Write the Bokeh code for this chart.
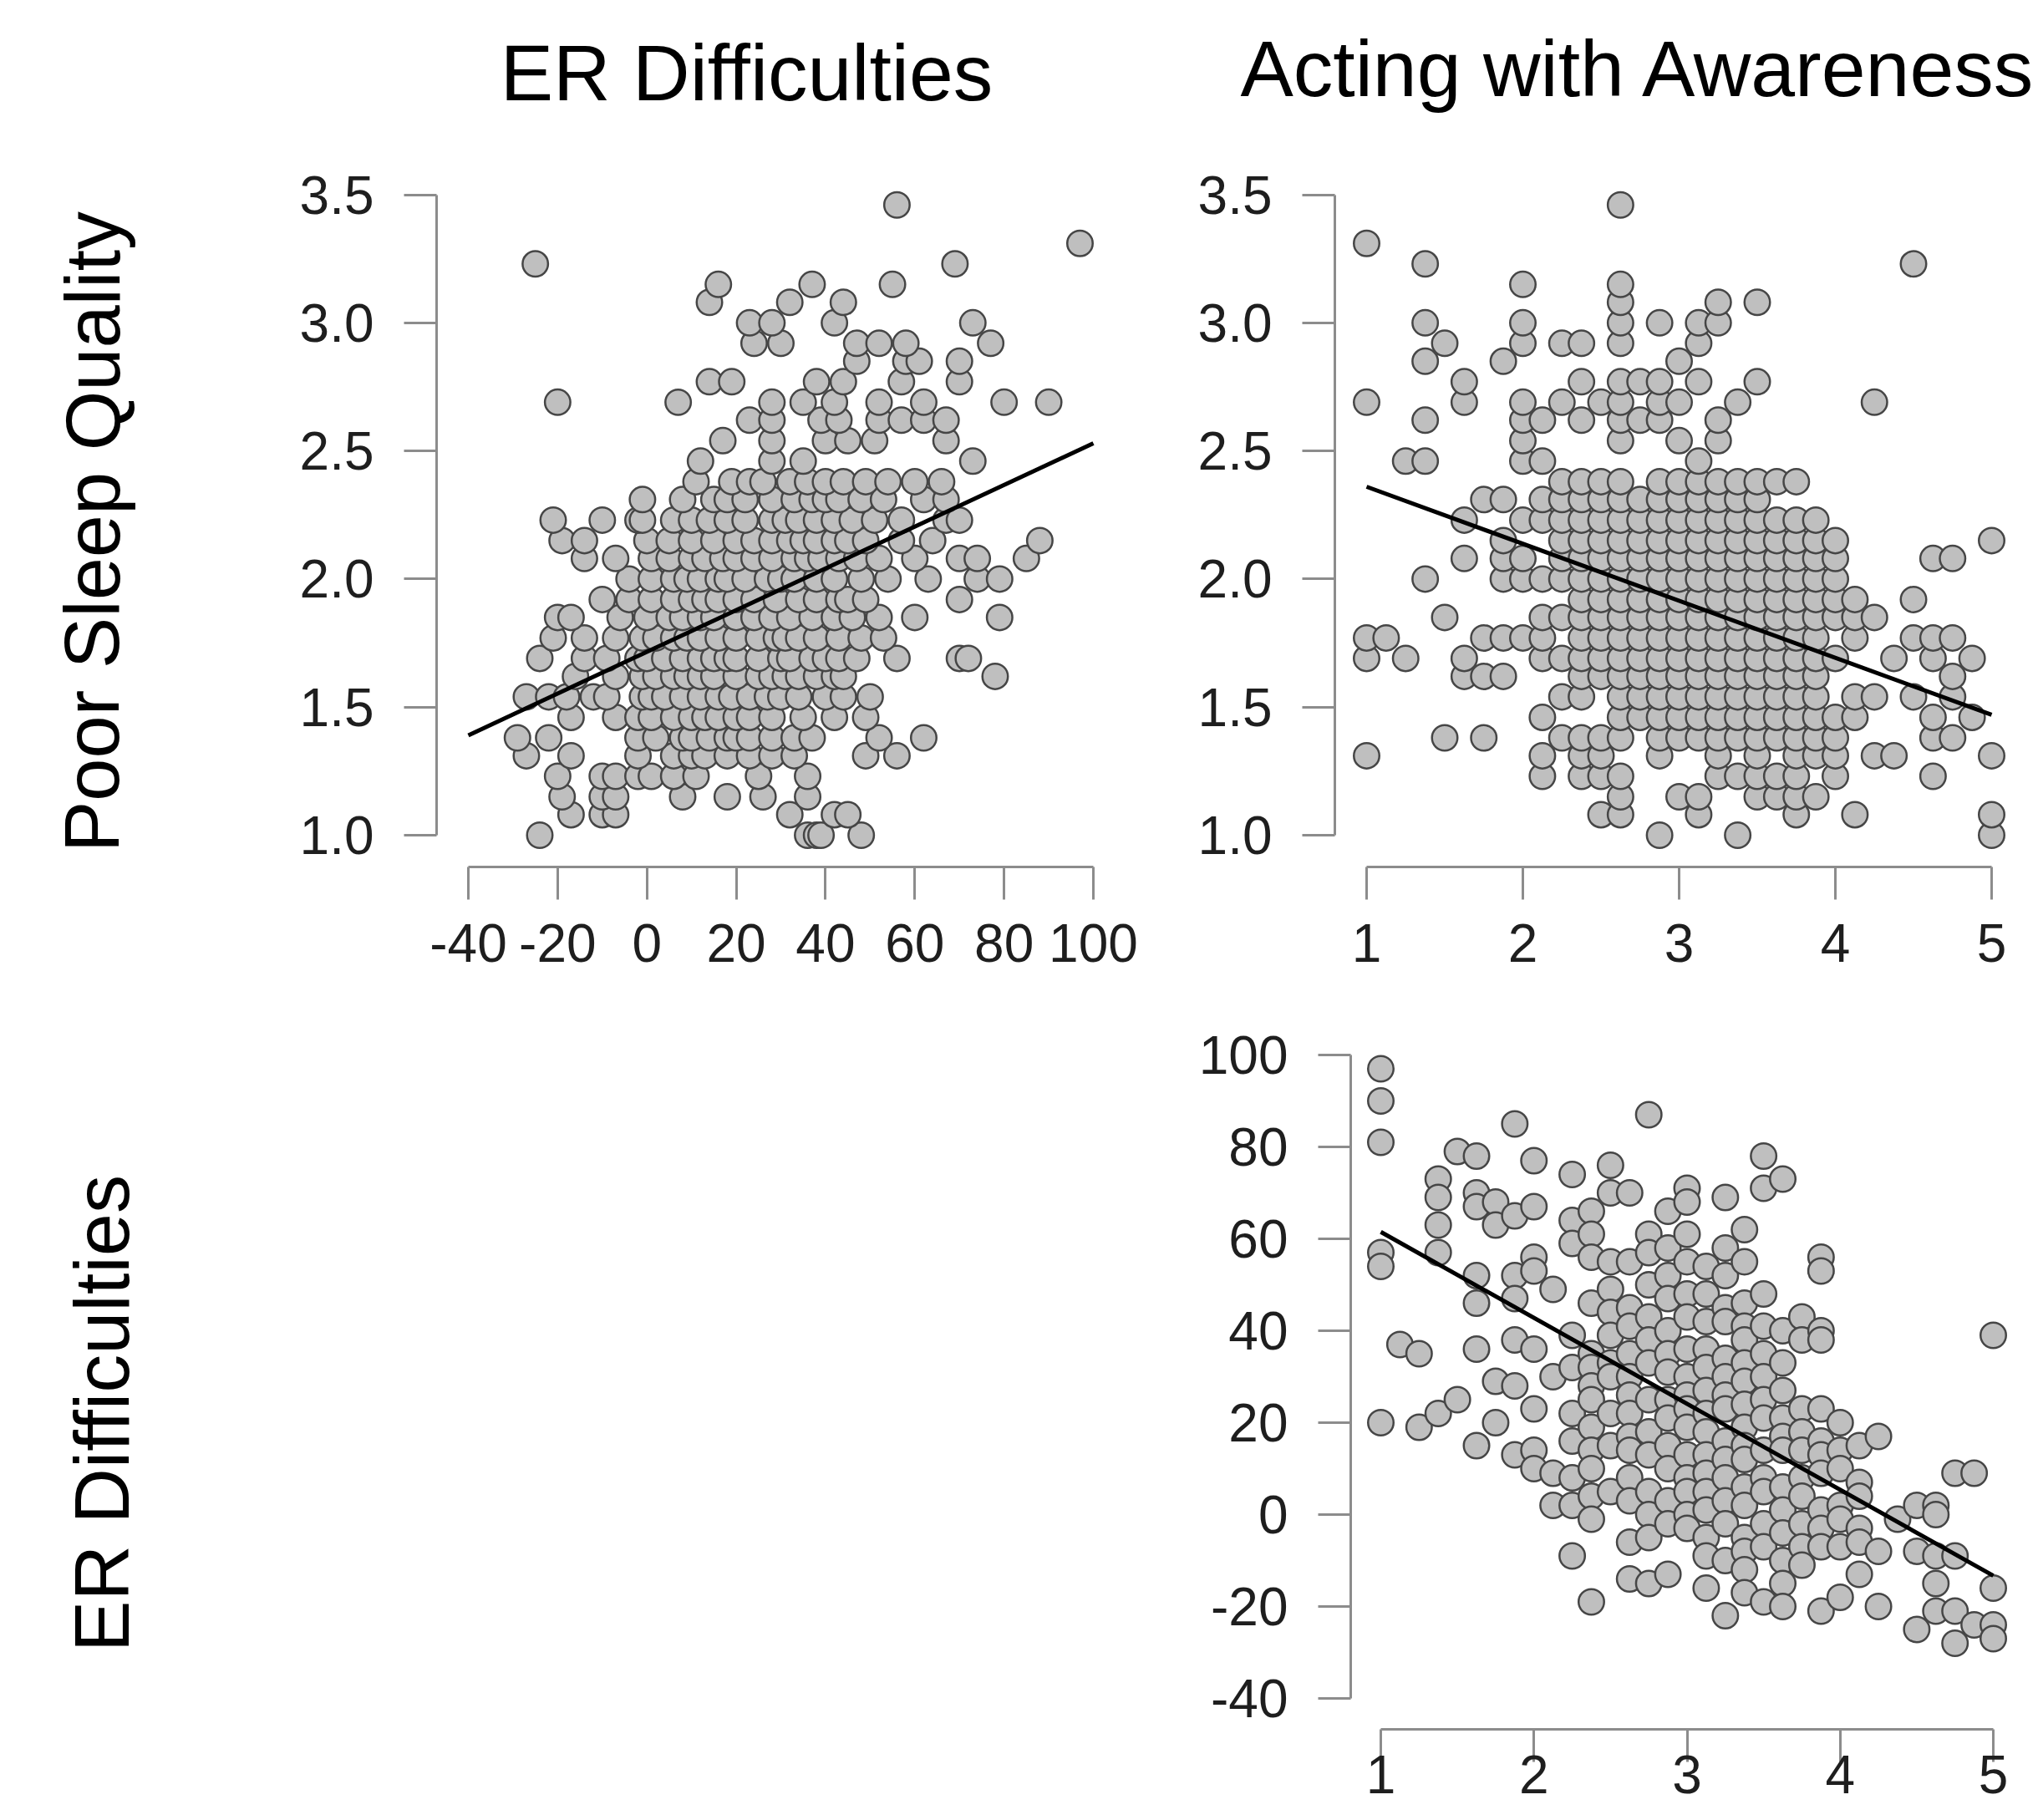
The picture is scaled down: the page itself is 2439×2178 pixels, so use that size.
from bokeh.plotting import figure
from bokeh.layouts import row, column
from bokeh.models import Range1d, FixedTicker, PrintfTickFormatter, AllLabels, Spacer
from bokeh.core.properties import value
from bokeh.embed import file_html
from bokeh.resources import INLINE

# ---------------- data ----------------
# Panel 1: ER Difficulties (x) vs Poor Sleep Quality (y)
p1_psq_levels = [1.00, 1.08, 1.15, 1.23, 1.31, 1.38, 1.46, 1.54, 1.62, 1.69, 1.77,
                 1.85, 1.92, 2.00, 2.08, 2.15, 2.23, 2.31, 2.38, 2.46, 2.54, 2.62,
                 2.69, 2.77, 2.85, 2.92, 3.00, 3.08, 3.15, 3.23, 3.31, 3.46]
p1_er_at_level = [
    [-24, 36, 38, 39, 48],
    [-17, -10, -7, 32, 42, 45],
    [-19, -10, -7, 8, 18, 26, 36],
    [-20, -10, -7, -2, 1, 6, 11, 25, 36],
    [-27, -17, -2, 6, 10, 13, 18, 23, 28, 33, 49, 56],
    [-29, -22, -2, 2, 8, 10, 14, 18, 20, 23, 28, 33, 37, 52, 62],
    [-17, -7, -2, 1, 6, 10, 13, 16, 20, 23, 28, 35, 42, 49],
    [-27, -22, -18, -12, -9, -1, 1, 4, 8, 12, 16, 19, 23, 27, 30, 34, 40, 44, 50],
    [-16, -7, -1, 2, 6, 9, 12, 15, 20, 25, 28, 31, 34, 38, 42, 44, 78],
    [-24, -14, -9, -2, 0, 4, 8, 12, 15, 18, 20, 25, 30, 32, 37, 40, 43, 47, 56, 70, 72],
    [-21, -14, -7, -1, 2, 6, 9, 12, 16, 20, 25, 29, 31, 34, 38, 43, 48, 53],
    [-20, -17, -6, 0, 5, 8, 12, 15, 20, 24, 28, 32, 37, 42, 46, 52, 60, 79],
    [-10, -4, 1, 6, 10, 13, 16, 20, 24, 29, 34, 38, 43, 45, 49, 70],
    [-4, 1, 6, 9, 12, 16, 18, 22, 27, 30, 33, 38, 42, 48, 54, 63, 74, 79],
    [-14, -7, 1, 5, 10, 13, 17, 20, 24, 28, 33, 36, 39, 43, 47, 52, 60, 70, 74, 85],
    [-19, -14, 0, 5, 10, 15, 20, 24, 28, 32, 35, 38, 42, 45, 49, 57, 64, 88],
    [-21, -10, -2, -1, 6, 10, 14, 18, 22, 28, 31, 34, 38, 42, 46, 51, 57, 67, 70],
    [-1, 8, 15, 18, 22, 28, 33, 37, 40, 43, 48, 53, 62, 67],
    [11, 19, 23, 26, 32, 36, 40, 44, 49, 54, 60, 66],
    [12, 28, 35, 73],
    [17, 28, 40, 45, 51, 67],
    [23, 28, 39, 43, 52, 57, 62, 67],
    [-20, 7, 28, 35, 42, 52, 62, 80, 90],
    [14, 19, 38, 44, 57, 70],
    [47, 58, 61, 70],
    [24, 30, 47, 52, 58, 77],
    [23, 28, 42, 73],
    [14, 32, 44],
    [16, 37, 55],
    [-25, 69],
    [97],
    [56],
]
p1_fit_x = [-40, 100]
p1_fit_y = [1.39, 2.53]
p1_xticks = [-40, -20, 0, 20, 40, 60, 80, 100]
p1_yticks = [1.0, 1.5, 2.0, 2.5, 3.0, 3.5]

# Panel 2: Acting with Awareness (x) vs Poor Sleep Quality (y)
p2_psq_levels = [1.00, 1.08, 1.15, 1.23, 1.31, 1.38, 1.46, 1.54, 1.62, 1.69, 1.77,
                 1.85, 1.92, 2.00, 2.08, 2.15, 2.23, 2.31, 2.38, 2.46, 2.54, 2.62,
                 2.69, 2.77, 2.85, 2.92, 3.00, 3.08, 3.15, 3.23, 3.31, 3.46]
p2_awa_at_level = [
    [2.875, 3.375, 5.0],
    [2.5, 2.625, 3.125, 3.75, 4.125, 5.0],
    [2.625, 3.0, 3.125, 3.5, 3.625, 3.75, 3.875],
    [2.125, 2.375, 2.5, 2.625, 3.25, 3.375, 3.5, 3.625, 3.75, 4.0, 4.625],
    [1.0, 2.125, 2.375, 2.5, 2.875, 3.25, 3.5, 3.75, 3.875, 4.0, 4.25, 4.375, 5.0],
    [1.5, 1.75, 2.25, 2.375, 2.5, 2.625, 2.875, 3.0, 3.125, 3.25, 3.375, 3.5, 3.625, 3.75, 3.875, 4.0, 4.625, 4.75],
    [2.125, 2.625, 2.75, 2.875, 3.0, 3.125, 3.25, 3.375, 3.5, 3.625, 3.75, 3.875, 4.0, 4.125, 4.625, 4.875],
    [2.25, 2.375, 2.625, 2.75, 2.875, 3.0, 3.125, 3.25, 3.375, 3.5, 3.625, 3.75, 3.875, 4.125, 4.25, 4.5, 4.75],
    [1.625, 1.75, 1.875, 2.375, 2.5, 2.625, 2.75, 2.875, 3.0, 3.125, 3.25, 3.375, 3.5, 3.625, 3.75, 3.875, 4.75],
    [1.0, 1.25, 1.625, 2.125, 2.25, 2.375, 2.5, 2.625, 2.75, 2.875, 3.0, 3.125, 3.25, 3.375, 3.5, 3.625, 3.75, 3.875, 4.0, 4.375, 4.625, 4.875],
    [1.0, 1.125, 1.75, 1.875, 2.0, 2.125, 2.375, 2.5, 2.625, 2.75, 2.875, 3.0, 3.125, 3.25, 3.375, 3.5, 3.625, 3.75, 3.875, 4.125, 4.5, 4.625, 4.75],
    [1.5, 2.125, 2.25, 2.375, 2.5, 2.625, 2.75, 2.875, 3.0, 3.125, 3.25, 3.375, 3.5, 3.625, 3.75, 3.875, 4.0, 4.125, 4.25],
    [2.375, 2.5, 2.625, 2.75, 2.875, 3.0, 3.125, 3.25, 3.375, 3.5, 3.625, 3.75, 3.875, 4.0, 4.125, 4.5],
    [1.375, 1.875, 2.0, 2.125, 2.25, 2.375, 2.5, 2.625, 2.75, 2.875, 3.0, 3.125, 3.25, 3.375, 3.5, 3.625, 3.75, 3.875, 4.0],
    [1.625, 1.875, 2.0, 2.25, 2.375, 2.5, 2.625, 2.75, 2.875, 3.0, 3.125, 3.25, 3.375, 3.5, 3.625, 3.75, 3.875, 4.0, 4.625, 4.75],
    [1.875, 2.25, 2.375, 2.5, 2.625, 2.75, 2.875, 3.0, 3.125, 3.25, 3.375, 3.5, 3.625, 3.75, 3.875, 4.0, 5.0],
    [1.625, 2.0, 2.125, 2.25, 2.375, 2.5, 2.625, 2.75, 2.875, 3.0, 3.125, 3.25, 3.375, 3.5, 3.625, 3.75, 3.875],
    [1.75, 1.875, 2.125, 2.25, 2.375, 2.5, 2.625, 2.75, 2.875, 3.0, 3.125, 3.25, 3.375, 3.5],
    [2.25, 2.375, 2.5, 2.625, 2.875, 3.0, 3.125, 3.25, 3.375, 3.5, 3.625, 3.75],
    [1.25, 1.375, 2.0, 2.125, 3.125],
    [2.0, 2.625, 3.0, 3.25],
    [1.375, 2.0, 2.125, 2.375, 2.625, 2.75, 2.875, 3.25],
    [1.0, 1.625, 2.0, 2.25, 2.5, 2.625, 2.875, 3.0, 3.375, 4.25],
    [1.625, 2.375, 2.625, 2.75, 2.875, 3.125, 3.5],
    [1.375, 1.875, 3.0],
    [1.5, 2.0, 2.25, 2.375, 2.625, 3.125],
    [1.375, 2.0, 2.625, 2.875, 3.125, 3.25],
    [2.625, 3.25, 3.5],
    [2.0, 2.625],
    [1.375, 4.5],
    [1.0],
    [2.625],
]
p2_fit_x = [1, 5]
p2_fit_y = [2.36, 1.47]
p2_xticks = [1, 2, 3, 4, 5]
p2_yticks = [1.0, 1.5, 2.0, 2.5, 3.0, 3.5]

# Panel 3: Acting with Awareness (x) vs ER Difficulties (y)
p3_awa_levels = [1.0, 1.125, 1.25, 1.375, 1.5, 1.625, 1.75, 1.875, 2.0, 2.125, 2.25,
                 2.375, 2.5, 2.625, 2.75, 2.875, 3.0, 3.125, 3.25, 3.375, 3.5, 3.625,
                 3.75, 3.875, 4.0, 4.125, 4.25, 4.375, 4.5, 4.625, 4.75, 4.875, 5.0]
p3_er_at_awa = [
    [97, 90, 81, 57, 54, 20],
    [37],
    [35, 19],
    [73, 69, 63, 57, 22],
    [79, 25],
    [78, 70, 67, 52, 46, 36, 15],
    [68, 63, 29, 20],
    [85, 65, 52, 47, 38, 28, 13],
    [77, 67, 56, 53, 36, 23, 14, 10],
    [49, 30, 9, 2],
    [74, 64, 59, 39, 32, 22, 16, 8, 2, -9],
    [66, 61, 56, 46, 35, 32, 28, 25, 19, 14, 10, 4, -1, -19],
    [76, 70, 55, 49, 44, 39, 33, 30, 22, 15, 5],
    [70, 55, 45, 41, 35, 30, 26, 22, 17, 14, 8, 3, -6, -14],
    [87, 61, 57, 50, 43, 38, 33, 25, 18, 13, 5, 0, -5, -15],
    [66, 58, 52, 47, 40, 35, 31, 25, 21, 15, 10, 3, -2, -13],
    [71, 68, 61, 55, 48, 43, 36, 30, 26, 23, 19, 13, 8, 5, 0, -3],
    [54, 48, 42, 36, 32, 27, 22, 18, 13, 9, 5, 1, -5, -9, -16],
    [69, 58, 52, 45, 42, 34, 30, 26, 23, 16, 12, 8, 3, -2, -10, -22],
    [62, 55, 46, 41, 38, 33, 29, 24, 19, 15, 12, 6, 2, -5, -8, -12, -17],
    [78, 71, 48, 41, 35, 30, 25, 21, 14, 8, 5, -2, -7, -19],
    [73, 40, 33, 27, 21, 17, 14, 6, 1, -4, -10, -15, -20],
    [43, 38, 23, 18, 14, 8, 4, -2, -7, -11],
    [56, 53, 40, 38, 23, 16, 13, 9, 1, -3, -7, -21],
    [20, 14, 10, 2, -1, -7, -18],
    [15, 7, 4, -3, -6, -13],
    [17, -8, -20],
    [-1],
    [2, -8, -25],
    [2, 0, -9, -15, -21],
    [9, -9, -21, -28],
    [9, -24],
    [39, -16, -24, -27],
]
p3_fit_x = [1, 5]
p3_fit_y = [61.5, -13.3]
p3_xticks = [1, 2, 3, 4, 5]
p3_yticks = [-40, -20, 0, 20, 40, 60, 80, 100]

col_titles = ["ER Difficulties", "Acting with Awareness"]
row_titles = ["Poor Sleep Quality", "ER Difficulties"]

# ---------------- styling ----------------
FONT = "Liberation Sans"
FILL = "#bfbfbf"
EDGE = "#464646"
AXIS_COLOR = "#8c8c8c"
TICK_TEXT = "#1e1e1e"
TITLE_SIZE = "95px"
ROW_SIZE = "92px"
SMALL = "64px"


def flatten(levels, groups, levels_on_x):
    a = [v for lvl, g in zip(levels, groups) for v in [lvl] * len(g)]
    b = [v for g in groups for v in g]
    return (a, b) if levels_on_x else (b, a)


def span(v0, p0, v1, p1, e_lo, e_hi):
    # data range whose frame edges sit at pixel e_lo / e_hi, given two tick anchors
    s = (p1 - p0) / (v1 - v0)
    return Range1d(v0 + (e_lo - p0) / s, v0 + (e_hi - p0) / s)


def panel(xs, ys, fx, fy, xr, yr, xticks, yticks, xfmt, yfmt, w, h,
          mbl, mbr, mbt, mbb, x_standoff):
    p = figure(width=w, height=h, x_range=xr, y_range=yr, output_backend="svg",
               toolbar_location=None, min_border_left=mbl, min_border_right=mbr,
               min_border_top=mbt, min_border_bottom=mbb,
               background_fill_color="white", border_fill_color="white")
    p.grid.visible = False
    p.outline_line_color = None
    p.scatter(x=xs, y=ys, marker="circle", size=30.5, fill_color=FILL,
              line_color=EDGE, line_width=2.5)
    p.line(x=fx, y=fy, line_color="black", line_width=5)
    for ax, ticks, fmt in ((p.xaxis[0], xticks, xfmt), (p.yaxis[0], yticks, yfmt)):
        ax.ticker = FixedTicker(ticks=ticks)
        ax.bounds = (min(ticks), max(ticks))
        ax.formatter = PrintfTickFormatter(format=fmt)
        ax.axis_line_color = AXIS_COLOR
        ax.axis_line_width = 3
        ax.major_tick_line_color = AXIS_COLOR
        ax.major_tick_line_width = 3
        ax.major_tick_in = 0
        ax.major_tick_out = 39
        ax.minor_tick_line_color = None
        ax.major_label_text_font = FONT
        ax.major_label_text_font_size = SMALL
        ax.major_label_text_color = TICK_TEXT
        ax.major_label_policy = AllLabels()
    p.xaxis[0].major_label_standoff = x_standoff
    p.yaxis[0].major_label_standoff = 36
    return p


def text_fig(w, h):
    t = figure(width=w, height=h, x_range=Range1d(0, w), y_range=Range1d(0, h),
               output_backend="svg", toolbar_location=None,
               x_axis_location=None, y_axis_location=None, min_border=0,
               min_border_left=0, min_border_right=0, min_border_top=0,
               min_border_bottom=0, background_fill_color="white",
               border_fill_color="white")
    t.grid.visible = False
    t.outline_line_color = None
    return t


# ---------------- layout (page pixels) ----------------
W0, W1, W2 = 310, 1105, 1022
H0, H1, H2 = 180, 1010, 986

# panel 1
x1, y1 = flatten(p1_psq_levels, p1_er_at_level, levels_on_x=False)
p1 = panel(x1, y1, p1_fit_x, p1_fit_y,
           span(-40, 560, 100, 1308, 522, 1330),
           span(1.0, 999, 3.5, 232.5, 1037, 214),
           p1_xticks, p1_yticks, "%d", "%.1f",
           W1, H1, 212, 85, 34, 153, 29)

# panel 2
x2, y2 = flatten(p2_psq_levels, p2_awa_at_level, levels_on_x=False)
p2 = panel(x2, y2, p2_fit_x, p2_fit_y,
           span(1, 1635, 5, 2383, 1597, 2408),
           span(1.0, 999, 3.5, 232.5, 1037, 214),
           p2_xticks, p2_yticks, "%d", "%.1f",
           W2, H1, 182, 29, 34, 153, 29)

# panel 3
x3, y3 = flatten(p3_awa_levels, p3_er_at_awa, levels_on_x=True)
p3 = panel(x3, y3, p3_fit_x, p3_fit_y,
           span(1, 1652, 5, 2385, 1616, 2408),
           span(-40, 2032, 100, 1262, 2069, 1241),
           p3_xticks, p3_yticks, "%d", "%d",
           W2, H2, 201, 29, 51, 107, -8)

# column titles
t1 = text_fig(W1, H0)
t1.text(x=[583], y=[94], text=[col_titles[0]], text_font=value(FONT),
        text_font_size=value(TITLE_SIZE), text_align="center",
        text_baseline="alphabetic", text_color="black")
t2 = text_fig(W2, H0)
t2.text(x=[546], y=[99], text=[col_titles[1]], text_font=value(FONT),
        text_font_size=value(TITLE_SIZE), text_align="center",
        text_baseline="alphabetic", text_color="black")

# row titles
lab = text_fig(W0, H0 + H1 + H2)
lab.text(x=[110, 121], y=[1540, 485], text=row_titles, text_font=value(FONT),
         text_font_size=value(ROW_SIZE), text_align="center",
         text_baseline="alphabetic", angle=1.5707963, text_color="black")

top = row(t1, t2)
mid = row(p1, p2)
bot = row(Spacer(width=W1, height=H2), p3)
right = column(top, mid, bot)
root = row(lab, right)

open("out.html", "w").write(file_html(root, INLINE, "chart"))
